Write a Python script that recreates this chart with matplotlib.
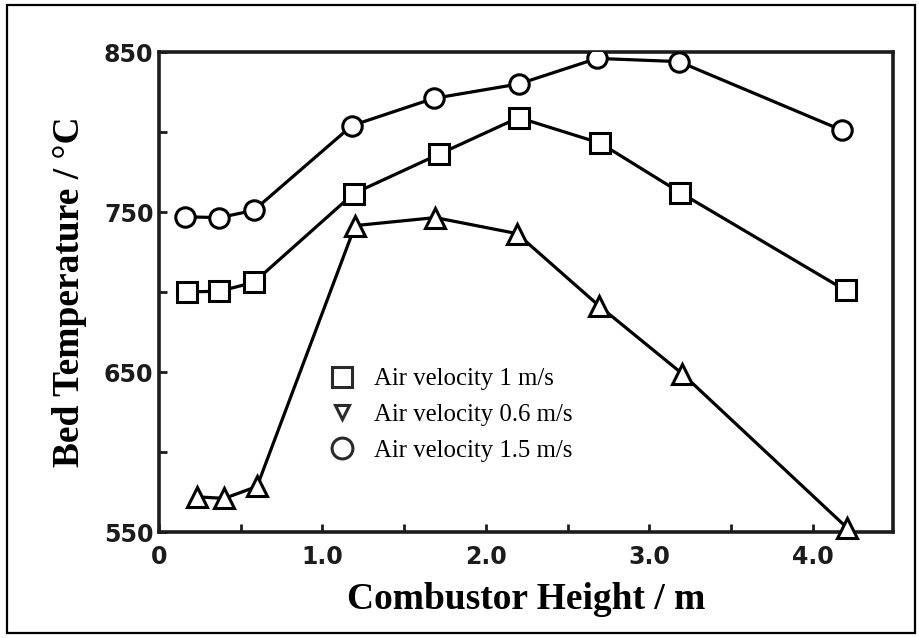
import matplotlib.pyplot as plt
from matplotlib.lines import Line2D
from matplotlib.patches import Rectangle

# bed temperature profiles along the combustor at three air velocities
height_1 = [0.17, 0.37, 0.58, 1.19, 1.71, 2.20, 2.70, 3.19, 4.20]
temp_1 = [700, 700.5, 706, 761.5, 786, 809, 793, 762, 701]

height_06 = [0.23, 0.40, 0.60, 1.20, 1.69, 2.19, 2.69, 3.20, 4.21]
temp_06 = [572, 571, 578.5, 741.5, 746.5, 736.5, 691.5, 649, 552.5]

height_15 = [0.16, 0.37, 0.58, 1.18, 1.68, 2.20, 2.68, 3.18, 4.18]
temp_15 = [747, 746.5, 751, 804, 821, 830, 846, 844, 801]

legend_labels = ['Air velocity 1 m/s', 'Air velocity 0.6 m/s', 'Air velocity 1.5 m/s']
x_ticks = [0, 1, 2, 3, 4]
x_ticklabels = ['0', '1.0', '2.0', '3.0', '4.0']
y_ticks = [550, 650, 750, 850]

ink = '#1c1c1c'
W, H = 920, 638

fig = plt.figure(figsize=(9.2, 6.38), dpi=100)
ax = fig.add_axes([159 / W, 1 - 532 / H, (893 - 159) / W, (532 - 52) / H])

mk = dict(color='black', lw=2.3, mfc='white', mec='black', mew=2.2, zorder=3)
ax.plot(height_15, temp_15, marker='o', ms=14, **mk)
ax.plot(height_1, temp_1, marker='s', ms=14, **mk)
ax.plot(height_06, temp_06, marker='^', ms=15, clip_on=False, **mk)

ax.set_xlim(0, 4.49)
ax.set_ylim(550, 850)
ax.set_xticks(x_ticks)
ax.set_xticklabels(x_ticklabels)
ax.set_xticks([0.5, 1.5, 2.5, 3.5], minor=True)
ax.set_yticks(y_ticks)
ax.set_yticks([600, 700, 800], minor=True)

for s in ax.spines.values():
    s.set_linewidth(2.6)
    s.set_color(ink)
ax.tick_params(which='both', direction='in', length=6, width=2, color=ink,
               labelsize=17, labelcolor=ink, pad=4)
ax.tick_params(axis='x', pad=9)
for t in ax.get_xticklabels() + ax.get_yticklabels():
    t.set_fontweight('bold')

lab = dict(family='Liberation Serif', fontweight='bold', fontsize=27)
ax.set_xlabel('Combustor Height / m', labelpad=10, **lab)
ax.set_ylabel('Bed Temperature / \u00b0C', labelpad=12, **lab)

leg_style = dict(ls='none', mfc='none', mec='#2a2a2a', mew=2.2)
handles = [Line2D([], [], marker='s', ms=15, **leg_style),
           Line2D([], [], marker='v', ms=10, **leg_style),
           Line2D([], [], marker='o', ms=15, **leg_style)]
ax.legend(handles, legend_labels, loc='upper left', frameon=False,
          bbox_to_anchor=(320 / W, 1 - 358 / H), bbox_transform=fig.transFigure,
          prop=dict(family='Liberation Serif', size=17.8), handlelength=1.0,
          handletextpad=0.8, labelspacing=0.55, borderaxespad=0)

fig.patches.append(Rectangle((7 / W, 5 / H), 1 - 12 / W, 1 - 10 / H,
                             transform=fig.transFigure, fill=False,
                             lw=1.6, ec='black'))

fig.savefig('out.png', dpi=100)
